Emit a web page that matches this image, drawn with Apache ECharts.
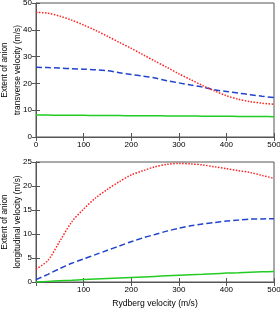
<!DOCTYPE html>
<html><head><meta charset="utf-8">
<script src="https://cdn.jsdelivr.net/npm/echarts@6/dist/echarts.min.js"></script>
<style>html,body{margin:0;padding:0;background:#fff}#c{width:280px;height:309px}</style>
</head><body><div id="c"></div>
<script>
// Rydberg velocity (m/s)
const vel = [0, 25, 50, 75, 100, 125, 150, 175, 200, 225, 250, 275, 300, 325, 350, 375, 400, 425, 450, 475, 500];
// Top panel: transverse velocity extent (m/s)
const transRed   = [46.5, 46.2, 45.1, 43.6, 41.8, 39.8, 37.6, 35.3, 33.1, 30.7, 28.3, 26.0, 23.6, 21.4, 19.2, 17.2, 15.4, 14.1, 13.2, 12.6, 12.2];
const transBlue  = [26.0, 25.9, 25.7, 25.5, 25.3, 25.1, 24.7, 24.0, 23.3, 22.7, 22.0, 21.0, 20.2, 19.4, 18.6, 17.6, 17.0, 16.4, 15.8, 15.2, 14.7];
const transGreen = [8.2, 8.17, 8.14, 8.11, 8.08, 8.05, 8.02, 7.99, 7.96, 7.93, 7.9, 7.87, 7.84, 7.81, 7.78, 7.75, 7.72, 7.69, 7.66, 7.63, 7.6];
// Bottom panel: longitudinal velocity extent (m/s)
const longRed   = [2.7, 4.5, 8.5, 12.5, 15.2, 17.5, 19.3, 20.9, 22.3, 23.2, 24.0, 24.5, 24.7, 24.6, 24.4, 24.0, 23.6, 23.2, 22.8, 22.2, 21.6];
const longBlue  = [0.5, 1.6, 2.8, 3.9, 4.8, 5.7, 6.6, 7.5, 8.4, 9.2, 9.9, 10.6, 11.2, 11.7, 12.1, 12.4, 12.7, 12.9, 13.1, 13.15, 13.2];
const longGreen = [0.0, 0.13, 0.26, 0.38, 0.5, 0.61, 0.72, 0.84, 0.95, 1.06, 1.17, 1.28, 1.4, 1.51, 1.62, 1.74, 1.85, 1.94, 2.03, 2.12, 2.2];
const xTicks = [0, 100, 200, 300, 400, 500];
const xTitle = 'Rydberg velocity (m/s)';
const topTitle = ['Extent of anion', 'transverse velocity (m/s)'];
const botTitle = ['Extent of anion', 'longitudinal velocity (m/s)'];

const font = 'Liberation Sans, Arial, sans-serif';
const frame = '#555';
function pairs(ys){ return vel.map((x,i)=>[x, ys[i]]); }

const chart = echarts.init(document.getElementById('c'));
function xAx(grid, pos, showLabel, hideZero){
  return {type:'value', gridIndex:grid, position:pos, min:xTicks[0], max:xTicks[xTicks.length-1], interval:xTicks[1]-xTicks[0],
    axisLine:{show:true, lineStyle:{color:frame, width:1}},
    axisTick:{show:true, inside:true, length:4, lineStyle:{color:frame}},
    axisLabel:{show:showLabel, color:'#000', fontFamily:font, fontSize:8, margin:4,
      formatter: v => (hideZero && v===0) ? '' : String(v)},
    splitLine:{show:false}};
}
function yAx(grid, pos, max, interval, showLabel){
  return {type:'value', gridIndex:grid, position:pos, min:0, max:max, interval:interval,
    axisLine:{show:true, lineStyle:{color:frame, width:1}},
    axisTick:{show:true, inside:true, length:4, lineStyle:{color:frame}},
    axisLabel:{show:showLabel, color:'#000', fontFamily:font, fontSize:8, margin:4},
    splitLine:{show:false}};
}
function line(ys, xi, yi, color, type, w){
  return {type:'line', xAxisIndex:xi, yAxisIndex:yi, data:pairs(ys), smooth:0.3,
    showSymbol:false, lineStyle:{color:color, type:type, width:w}, animation:false};
}
function vtext(t, x, y){
  return {type:'text', x:x, y:y, rotation:Math.PI/2,
    style:{text:t, fill:'#000', font:'8.3px ' + font, textAlign:'center', textVerticalAlign:'middle'}};
}
chart.setOption({
  animation:false,
  grid:[
    {left:36, right:6, top:3, height:134, outerBoundsMode:'none', containLabel:false, show:true, borderColor:frame, borderWidth:1},
    {left:36, right:6, top:162, height:120, outerBoundsMode:'none', containLabel:false, show:true, borderColor:frame, borderWidth:1}
  ],
  xAxis:[
    xAx(0,'bottom',true,false), xAx(0,'top',false,false),
    xAx(1,'bottom',true,true), xAx(1,'top',false,false)
  ],
  yAxis:[
    yAx(0,'left',50,10,true), yAx(0,'right',50,10,false),
    yAx(1,'left',25,5,true), yAx(1,'right',25,5,false)
  ],
  graphic:[
    vtext(topTitle[0], 5, 70), vtext(topTitle[1], 17.5, 70),
    vtext(botTitle[0], 5, 222), vtext(botTitle[1], 17.5, 222),
    {type:'text', x:155, y:304, style:{text:xTitle, fill:'#000', font:'8.6px ' + font, textAlign:'center', textVerticalAlign:'middle'}}
  ],
  series:[
    line(transGreen,0,0,'#22cc22','solid',1.5),
    line(transBlue,0,0,'#2244cc','dashed',1.5),
    line(transRed,0,0,'#ff2222','dotted',1.5),
    line(longGreen,2,2,'#22cc22','solid',1.5),
    line(longBlue,2,2,'#2244cc','dashed',1.5),
    line(longRed,2,2,'#ff2222','dotted',1.5)
  ]
});
</script></body></html>
